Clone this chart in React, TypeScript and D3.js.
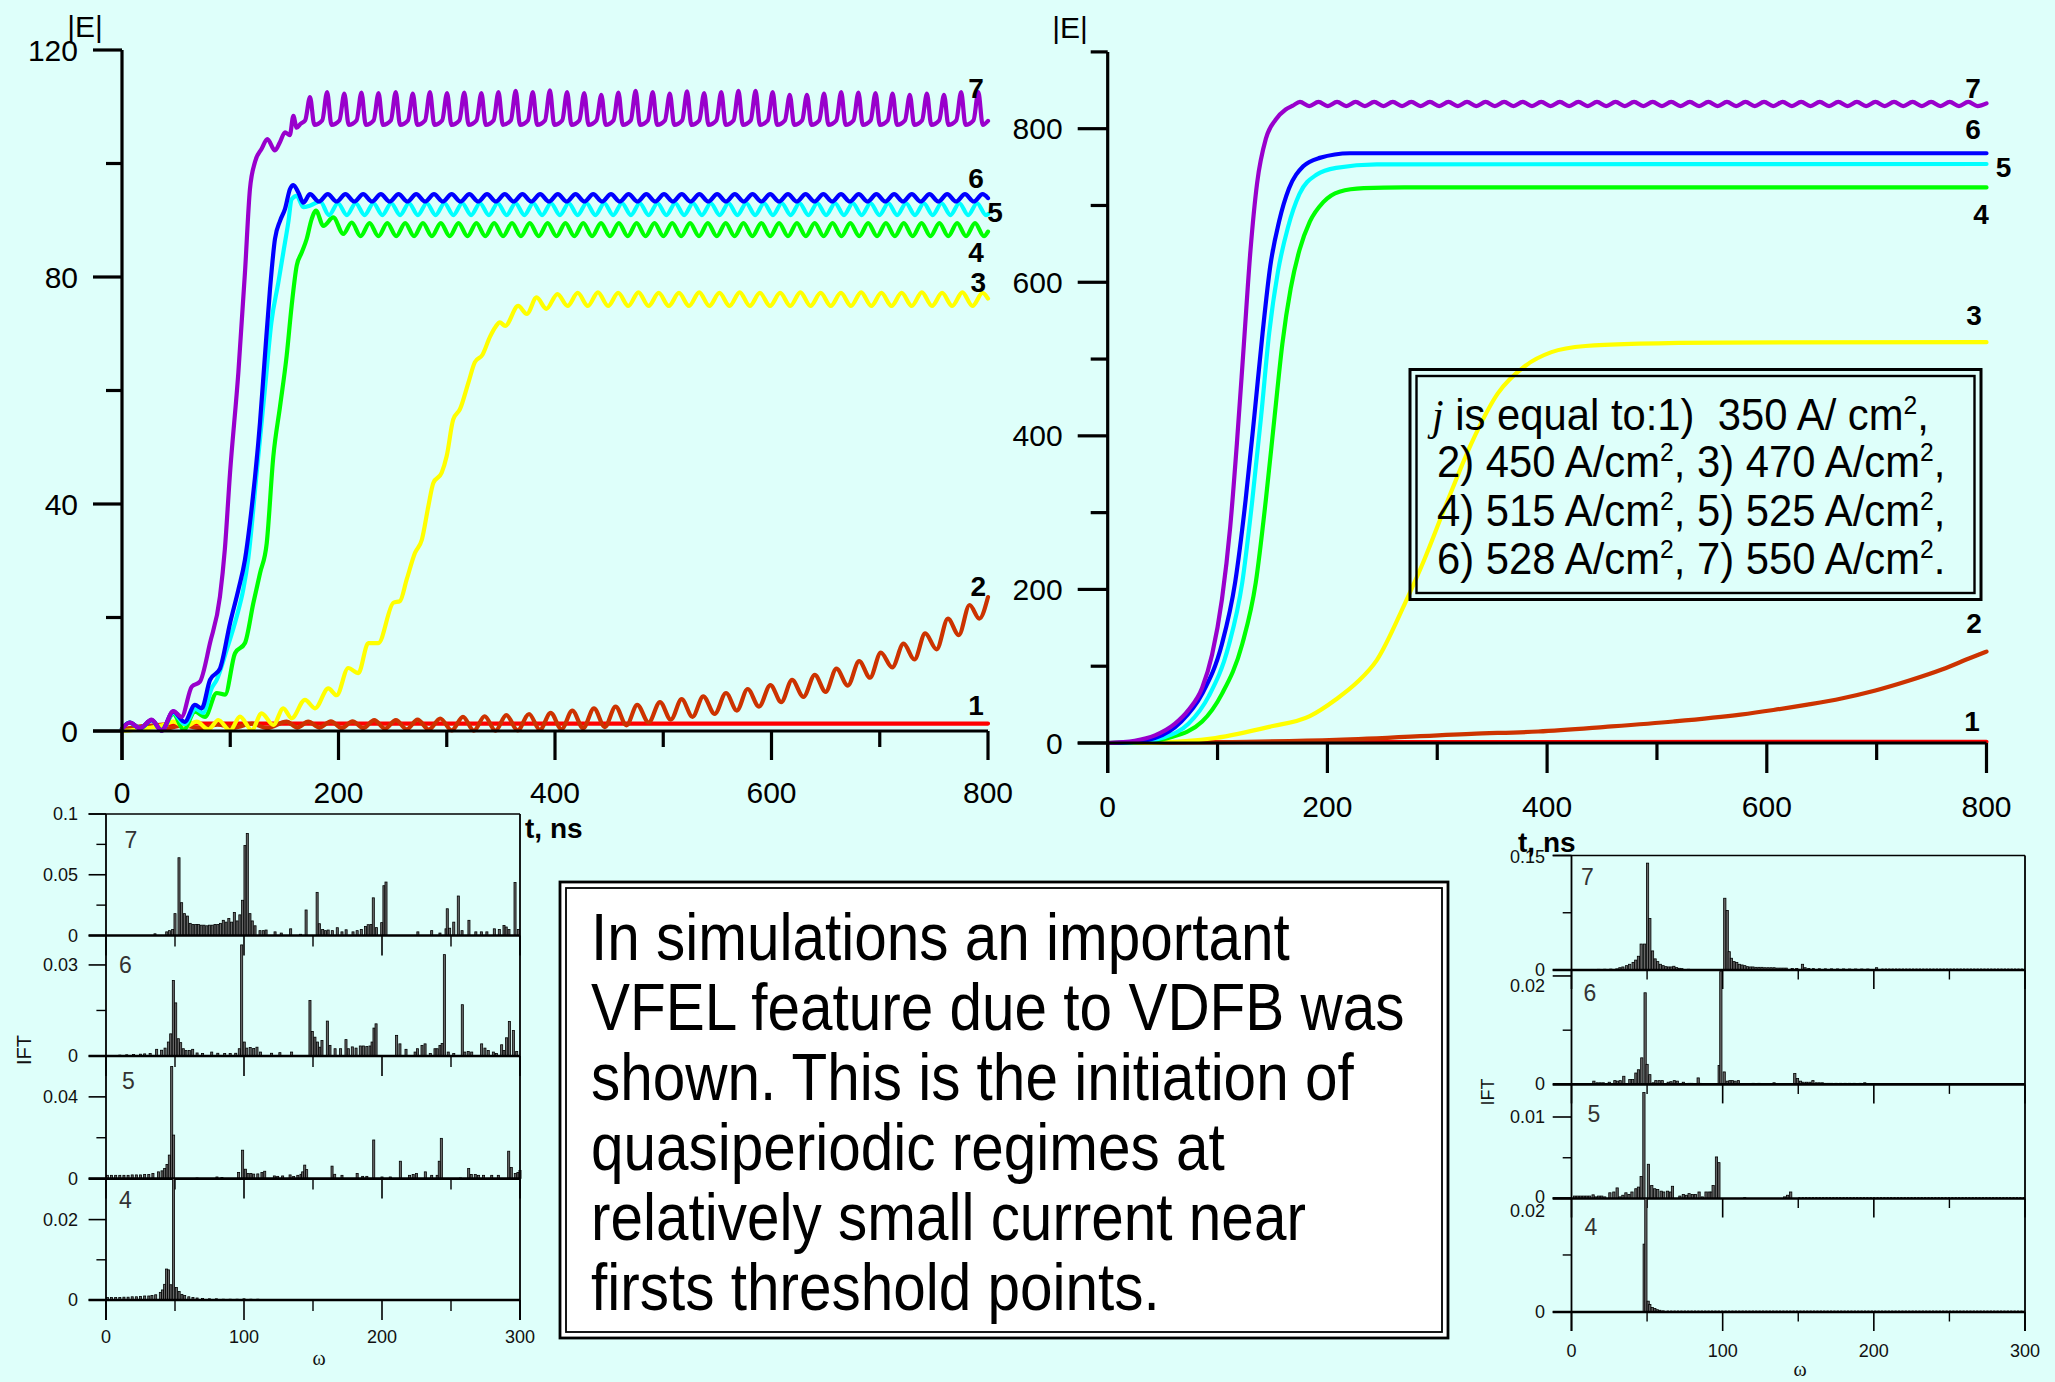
import React from 'react';
import * as d3 from 'd3';

type P = [number, number];
type Pk = [number, number, number];

const W = 2055;
const H = 1382;
const BG = '#DEFFFA';
const SANS = "'Liberation Sans', Arial, Helvetica, sans-serif";
const SERIF = "'Liberation Serif', 'Times New Roman', serif";

// ---------- tick values ----------
const T_MAJOR = [0, 200, 400, 600, 800];
const T_MINOR = [100, 300, 500, 700];
const EL_MAJOR = [0, 40, 80, 120];
const EL_MINOR = [20, 60, 100];
const ER_MAJOR = [0, 200, 400, 600, 800];
const ER_MINOR = [100, 300, 500, 700, 900];

const COLORS = ['#FF0000', '#CC3300', '#FFFF00', '#00FF00', '#00FFFF', '#0000FF', '#9900CC'];

// ---------- LEFT chart |E|(t) ----------
const L1: P[] = [[0, 0.2], [30, 1.0], [60, 1.3], [800, 1.3]];

const L2_HEAD: P[] = [[0, 0.2], [12, 0.7], [26, 0.9], [40, 0.4], [56, 1.0], [72, 0.5], [88, 1.1], [104, 0.6], [120, 1.3], [134, 0.5]];
const L2_PEAKS: Pk[] = [
  [152, 1.65, 0.6], [172, 1.65, 0.6], [193, 1.7, 0.5], [213, 1.7, 0.5], [233, 1.9, 0.4], [253, 1.9, 0.3],
  [273, 2.0, 0.25], [294, 2.2, 0.1], [315, 2.5, 0.05], [335, 2.6, 0.05], [355, 2.8, 0.1], [376, 3.0, 0.2],
  [396, 3.2, 0.3], [416, 3.6, 0.5], [436, 4.0, 0.7], [456, 4.3, 1.0], [476, 4.6, 1.5], [497, 5.1, 2.0],
  [517, 5.6, 2.5], [537, 6.1, 3.0], [558, 6.7, 3.6], [578, 7.4, 4.3], [599, 8.1, 5.1], [619, 9.0, 6.0],
  [640, 9.9, 6.9], [660, 11.0, 8.0], [681, 12.3, 9.4], [701, 13.8, 11.2], [722, 15.4, 12.6], [742, 17.2, 14.4],
  [763, 19.8, 16.9], [783, 22.2, 19.8],
];
const L2_TAIL: P[] = [[792, 19.8], [800, 23.6]];

const L3_HEAD: P[] = [
  [0, 0], [20, 0.4], [38, 1.06], [47.4, 1.65], [58.2, 0.76], [69, 1.65], [79.8, 0.29], [89, 1.94], [99.8, 0.06],
  [109, 2.53], [119.8, 0.18], [129, 3.1], [139.8, 1.06], [149, 4.0], [156.7, 2.24], [169, 5.5], [178.3, 4.0],
  [190.6, 7.5], [198.3, 6.3], [209, 11.1], [218.3, 10.2], [227.6, 15.5], [236.8, 15.5], [250.7, 22.6],
  [256.8, 22.9], [263, 26.7], [270.7, 31.4], [277, 33.7], [283, 39.6], [287.6, 43.7], [295.3, 45.5],
  [299.9, 48.4], [306, 54.9], [312.2, 56.7], [320, 61.4], [326, 65], [333, 66.3], [340, 69.5], [345, 71.2],
  [349, 72], [354, 71.4], [366, 74.9], [374, 73.5], [383, 76.4], [392, 74.4],
];
const L3_PEAKS: P[] = [
  [402.3, 77.0], [421.0, 77.2], [439.7, 77.3], [458.4, 77.2], [477.1, 77.3], [495.8, 77.2], [514.5, 77.2],
  [533.2, 77.3], [551.9, 77.2], [570.6, 77.3], [589.3, 77.2], [608.0, 77.2], [626.7, 77.3], [645.4, 77.2],
  [664.1, 77.2], [682.8, 77.3], [701.5, 77.2], [720.2, 77.2], [738.9, 77.3], [757.6, 77.2], [776.3, 77.3], [795.0, 77.2],
];
const L3_TROUGH = 74.9;
const L3_TAIL: P[] = [[800, 76.2]];

const L4_HEAD: P[] = [
  [0, 0.4], [7, 1.5], [16.6, 0.5], [27.4, 1.9], [36.6, 0.1], [47.4, 3.0], [57, 0.2], [67.4, 3.4], [76.7, 2.5],
  [87.5, 6.7], [95.2, 6.4], [104.4, 13.7], [113.6, 15.5], [121.3, 22.5], [127.5, 27.8], [133.7, 33.1],
  [139.8, 48.4], [146, 57.2], [152.1, 66.1], [156.7, 74.9], [161.4, 82], [166, 84.3], [170.6, 86.7],
  [175.2, 90.2], [179.2, 91.7], [186, 89], [195.2, 90.5], [204.4, 87.6],
];
const L4_PEAKS: P[] = [
  [212.2, 89.6], [228.7, 89.5], [245.1, 89.5], [261.6, 89.5], [278.0, 89.5], [294.5, 89.5], [310.9, 89.5],
  [327.4, 89.5], [343.8, 89.5], [360.3, 89.5], [376.7, 89.5], [393.2, 89.5], [409.6, 89.5], [426.1, 89.5],
  [442.5, 89.5], [459.0, 89.5], [475.4, 89.5], [491.9, 89.5], [508.3, 89.5], [524.8, 89.5], [541.2, 89.5],
  [557.7, 89.5], [574.1, 89.5], [590.6, 89.5], [607.0, 89.5], [623.5, 89.5], [639.9, 89.5], [656.4, 89.5],
  [672.8, 89.5], [689.3, 89.5], [705.7, 89.5], [722.2, 89.5], [738.6, 89.5], [755.1, 89.5], [771.5, 89.5], [788.0, 89.5],
];
const L4_TROUGH = 87.2;
const L4_TAIL: P[] = [[796.2, 87.2], [800, 88.0]];

const L5_HEAD: P[] = [
  [0, 0.4], [7, 1.5], [16.6, 0.5], [27.4, 1.9], [36.6, 0.1], [47.4, 3.2], [58, 1.2], [68, 3.9], [75, 3.2],
  [83, 7.6], [87.5, 9], [96.7, 14.3], [106, 20.2], [112, 24.9], [116.7, 30.5], [124.4, 45.5], [132, 60.2],
  [138, 72], [144.4, 79], [149, 84.3], [153.6, 89.6], [156.7, 93.7], [161.4, 94.3], [167.5, 92.3], [174, 92.6],
];
const L5_PEAKS: P[] = [
  [183.1, 93.3], [199.5, 93.0], [215.9, 93.0], [232.3, 93.0], [248.7, 93.0], [265.1, 93.0], [281.5, 93.0],
  [297.9, 93.0], [314.3, 93.0], [330.7, 93.0], [347.1, 93.0], [363.5, 93.0], [379.9, 93.0], [396.3, 93.0],
  [412.7, 93.0], [429.1, 93.0], [445.5, 93.0], [461.9, 93.0], [478.3, 93.0], [494.7, 93.0], [511.1, 93.0],
  [527.5, 93.0], [543.9, 93.0], [560.3, 93.0], [576.7, 93.0], [593.1, 93.0], [609.5, 93.0], [625.9, 93.0],
  [642.3, 93.0], [658.7, 93.0], [675.1, 93.0], [691.5, 93.0], [707.9, 93.0], [724.3, 93.0], [740.7, 93.0],
  [757.1, 93.0], [773.5, 93.0], [789.9, 93.0],
];
const L5_TROUGH = 90.9;
const L5_TAIL: P[] = [[798.1, 90.9], [800, 91.1]];

const L6_HEAD: P[] = [
  [0, 0.4], [7, 1.5], [16.6, 0.5], [27.4, 1.9], [36.6, 0.1], [47.4, 3.4], [57.9, 1.6], [67.4, 4.6], [73.6, 4.0],
  [81.3, 9], [90.5, 11], [99.8, 19], [107.5, 24.9], [113.6, 30.2], [118.2, 36.7], [127.5, 54.4], [132, 66],
  [136.7, 77.8], [141.3, 86.7], [146, 89.9], [150.6, 92], [155.2, 95.5], [158.3, 96.2], [162.9, 94.9], [167.5, 93.1],
];
const L6_PEAKS: P[] = [
  [173.7, 94.6], [190.1, 94.6], [206.4, 94.6], [222.8, 94.6], [239.1, 94.6], [255.5, 94.6], [271.8, 94.6],
  [288.2, 94.6], [304.5, 94.6], [320.9, 94.6], [337.2, 94.6], [353.6, 94.6], [369.9, 94.6], [386.3, 94.6],
  [402.6, 94.6], [419.0, 94.6], [435.3, 94.6], [451.7, 94.6], [468.0, 94.6], [484.4, 94.6], [500.7, 94.6],
  [517.1, 94.6], [533.4, 94.6], [549.8, 94.6], [566.1, 94.6], [582.5, 94.6], [598.8, 94.6], [615.2, 94.6],
  [631.5, 94.6], [647.9, 94.6], [664.2, 94.6], [680.6, 94.6], [696.9, 94.6], [713.3, 94.6], [729.6, 94.6],
  [746.0, 94.6], [762.3, 94.6], [778.7, 94.6], [795.0, 94.6],
];
const L6_TROUGH = 93.3;
const L6_TAIL: P[] = [[800, 93.9]];

const L7_HEAD: P[] = [
  [0, 0.4], [7.4, 1.5], [16.6, 0.5], [27.4, 2.0], [36.6, 0.05], [47.4, 3.5], [55, 2.5], [64.4, 7.8], [72, 8.7],
  [81.3, 15.5], [90.5, 23.7], [95, 32], [99.8, 45.5], [107.5, 63.2], [113.6, 80.8], [118.2, 95.5],
  [122.9, 100.3], [129, 102.6], [134.3, 104.3], [141.3, 102.3], [146, 103.8], [150.6, 105.5], [155, 105],
  [158.3, 108.4], [161.4, 106.3], [165, 107.0],
];
const L7_PEAKS: P[] = [
  [173.7, 111.7], [189.5, 112.6], [205.4, 112.3], [221.2, 112.5], [237.0, 112.4], [252.9, 112.6], [268.7, 112.3],
  [284.5, 112.6], [300.3, 112.4], [316.2, 112.5], [332.0, 112.4], [347.8, 112.6], [363.7, 112.8], [379.5, 112.6],
  [395.3, 112.9], [411.2, 112.6], [427.0, 112.4], [442.8, 112.1], [458.6, 112.5], [474.5, 112.8], [490.3, 112.6],
  [506.1, 112.3], [522.0, 112.7], [537.8, 112.4], [553.6, 112.6], [569.5, 112.8], [585.3, 112.8], [601.1, 112.6],
  [616.9, 112.1], [632.8, 112.1], [648.6, 112.3], [664.4, 112.6], [680.3, 112.5], [696.1, 112.4], [711.9, 112.3],
  [727.8, 112.1], [743.6, 112.3], [759.4, 112.1], [775.2, 112.6], [791.1, 112.6],
];
const L7_FLAT = 107.6;
const L7_DIP = 106.8;
const L7_TAIL: P[] = [[800, 107.5]];

// ---------- RIGHT chart |E|(t) ----------
const R1: P[] = [[0, 0], [30, 1], [800, 1.5]];
const R2: P[] = [[0, 0], [100, 1], [208, 4], [331, 12], [392, 15], [453, 21], [515, 28], [576, 37], [606, 43], [637, 50], [668, 58], [698, 68], [729, 81], [760, 96], [784, 110], [800, 119]];
const R3: P[] = [[0, 0], [40, 0.5], [98, 6.5], [147, 21], [184, 35], [208, 57], [227, 79], [245, 108], [270, 180], [288, 238], [306, 303], [331, 390], [355, 455], [380, 491], [404, 509], [435, 517], [484, 520], [560, 521.5], [800, 522]];
const R4: P[] = [[0, 0], [30, 1], [55, 6.5], [86, 28], [104, 64], [122.5, 129], [134.8, 209], [144, 317], [152, 426], [159, 520], [166.6, 592], [174.6, 642], [184, 679], [196, 704], [211, 718], [233, 722.5], [270, 723.5], [800, 723.5]];
const R5: P[] = [[0, 0], [25, 1], [49, 6.5], [73.5, 25], [92, 61], [110, 126], [122.5, 209], [131.7, 317], [139.7, 426], [147, 534], [155, 614], [164, 671], [174.6, 715], [190, 740], [208, 749], [245, 753.5], [800, 754]];
const R6: P[] = [[0, 0], [20, 1], [43, 6.5], [67, 28], [86, 64], [104, 129], [116, 209], [125.6, 317], [133.5, 426], [141, 534], [148, 621], [156, 679], [165, 722], [178, 751], [193, 762], [220.5, 768], [800, 768]];
const R7_HEAD: P[] = [[0, 0], [24.5, 3], [43, 10], [61, 25], [73.5, 43], [86, 72], [95, 115], [104, 187], [111.5, 281], [117.6, 390], [124, 520], [130, 642], [136, 729], [144, 787], [153, 812], [162, 825], [168.5, 830]];
const R7_PEAKS: P[] = [
  [175.0, 835], [191.9, 835], [208.8, 835], [225.7, 835], [242.6, 835], [259.5, 835], [276.4, 835], [293.3, 835],
  [310.2, 835], [327.1, 835], [344.0, 835], [360.9, 835], [377.8, 835], [394.7, 835], [411.6, 835], [428.5, 835],
  [445.4, 835], [462.3, 835], [479.2, 835], [496.1, 835], [513.0, 835], [529.9, 835], [546.8, 835], [563.7, 835],
  [580.6, 835], [597.5, 835], [614.4, 835], [631.3, 835], [648.2, 835], [665.1, 835], [682.0, 835], [698.9, 835],
  [715.8, 835], [732.7, 835], [749.6, 835], [766.5, 835], [783.4, 835],
];
const R7_TROUGH = 829.5;
const R7_TAIL: P[] = [[791.9, 829.5], [800, 833]];

// label anchors (data coords: t, |E|)
const L_LABELS: [string, number, number][] = [['7', 789, 113.3], ['6', 789, 97.4], ['5', 806.5, 91.3], ['4', 789, 84.4], ['3', 791, 79.1], ['2', 791, 25.5], ['1', 789, 4.5]];
const R_LABELS: [string, number, number][] = [['7', 787.7, 851.7], ['6', 787.7, 798.4], ['5', 815.5, 750.1], ['4', 795, 688.9], ['3', 788.6, 557.3], ['2', 788.6, 155.9], ['1', 786.8, 28.6]];

// ---------- spectra (omega, IFT) ----------
const SX_MAJOR = [0, 100, 200, 300];
const SX_MINOR = [50, 150, 250];

const SL7: P[] = [
  [35.5, 0.0014], [44, 0.003], [46, 0.004], [48.3, 0.005], [50, 0.018], [52.9, 0.064], [54.8, 0.027], [56.8, 0.018],
  [59, 0.016], [61, 0.01], [63, 0.009], [65, 0.009], [67, 0.009], [69, 0.0085], [71, 0.0085], [73, 0.008], [75, 0.0085],
  [77, 0.0085], [79, 0.009], [81, 0.009], [83, 0.01], [85, 0.0125], [87, 0.011], [89, 0.014], [91, 0.011], [93, 0.019],
  [95, 0.012], [97, 0.017], [99, 0.029], [100.7, 0.074], [102.4, 0.084], [104.3, 0.018], [106, 0.012], [108, 0.008],
  [111.6, 0.004], [114, 0.004], [116, 0.0045], [122.5, 0.003], [127, 0.002], [133.8, 0.0055], [141, 0.001], [145, 0.021],
  [153, 0.0355], [154.6, 0.0097], [157, 0.005], [159, 0.004], [161, 0.0045], [164, 0.004], [167.6, 0.0064], [171, 0.003],
  [174, 0.0047], [179, 0.003], [182, 0.004], [185, 0.005], [188, 0.0075], [190, 0.0089], [192, 0.009], [193.7, 0.031],
  [196, 0.0065], [199.8, 0.0106], [201.4, 0.041], [202.9, 0.044], [226, 0.003], [236, 0.004], [242, 0.002],
  [246.4, 0.0055], [247.3, 0.022], [249, 0.006], [252, 0.011], [255.3, 0.0325], [258, 0.004], [263, 0.0125],
  [268, 0.003], [272, 0.003], [276, 0.003], [281.4, 0.0055], [285, 0.005], [288.4, 0.0083], [290, 0.007], [292, 0.005],
  [296.4, 0.0436], [298.8, 0.005],
];
const SL6: P[] = [
  [10, 0.0003], [15, 0.0004], [20, 0.0005], [25, 0.0006], [28, 0.0007], [32, 0.0008], [36.7, 0.0022], [40.3, 0.0019],
  [42.8, 0.0026], [45.2, 0.0046], [46.9, 0.0073], [48.8, 0.0249], [50.5, 0.0175], [52.4, 0.0057], [54.1, 0.0044],
  [56, 0.0024], [58, 0.0018], [60.4, 0.0018], [62.8, 0.0022], [66, 0.001], [70, 0.0008], [76.6, 0.0013], [81, 0.0009],
  [86, 0.0008], [90, 0.0008], [94, 0.0009], [96.6, 0.0024], [98.3, 0.0366], [100.2, 0.0046], [102, 0.0026],
  [104.5, 0.0028], [107, 0.0025], [109.4, 0.0029], [112, 0.0013], [120, 0.0009], [126, 0.0011], [134.5, 0.0013],
  [147.8, 0.0183], [149.5, 0.0081], [151.4, 0.0062], [153.3, 0.0046], [155, 0.0029], [156.5, 0.0051], [160.4, 0.0115],
  [162.3, 0.0035], [166, 0.0024], [170, 0.0024], [173.9, 0.0054], [175.6, 0.0024], [178.5, 0.003], [181.2, 0.0026],
  [184.3, 0.0033], [186.5, 0.0033], [189, 0.0031], [191.3, 0.0033], [192.8, 0.0046], [194.2, 0.0092], [195.7, 0.0106],
  [210.6, 0.0068], [213, 0.004], [217.4, 0.0022], [224, 0.0013], [225.7, 0.0024], [229, 0.0035], [231.2, 0.004],
  [235, 0.0008], [238.4, 0.0024], [240, 0.0024], [242, 0.0035], [243.6, 0.0041], [245.2, 0.0334], [248, 0.0013],
  [252, 0.0008], [258.2, 0.0169], [260, 0.0013], [262.5, 0.0015], [265, 0.0013], [272.2, 0.004], [274.6, 0.0026],
  [277, 0.0018], [280.7, 0.0013], [283, 0.0008], [286.7, 0.0037], [288.4, 0.0018], [290.3, 0.006], [292.3, 0.0114],
  [295.2, 0.0084], [297.6, 0.0015],
];
const SL5: P[] = [
  [1, 0.0016], [4, 0.0016], [7, 0.0016], [10, 0.0016], [13, 0.0016], [16, 0.0016], [19, 0.0018], [22, 0.0018],
  [25, 0.0018], [28, 0.002], [31, 0.002], [34, 0.0025], [38, 0.0033], [40.6, 0.0038], [42.5, 0.0049], [44.2, 0.0069],
  [45.9, 0.0115], [47.6, 0.0549], [49, 0.0213], [66, 0.0003], [80.4, 0.0008], [84, 0.0005], [96.1, 0.003], [99, 0.0139],
  [101, 0.0046], [103, 0.0025], [105, 0.0025], [107, 0.0022], [110, 0.0023], [113, 0.003], [115, 0.0036], [122, 0.0013],
  [124.4, 0.0011], [128, 0.0013], [133.4, 0.0018], [136, 0.001], [139, 0.0016], [141.3, 0.0021], [142.5, 0.0033],
  [144, 0.0066], [145.4, 0.0044], [163.8, 0.0061], [165.7, 0.0021], [171, 0.0016], [182, 0.0025], [186, 0.0011],
  [189, 0.0011], [194, 0.0189], [200, 0.0008], [206, 0.0008], [213.3, 0.0085], [220, 0.0016], [222.6, 0.002],
  [225, 0.0025], [231.4, 0.0033], [236, 0.0016], [240, 0.0016], [241.5, 0.0085], [243, 0.0197], [256.8, 0.0003],
  [262.8, 0.0049], [264.7, 0.002], [267.6, 0.002], [270, 0.0016], [273.6, 0.0016], [279.5, 0.0016], [284.3, 0.0016],
  [291.8, 0.0134], [293.7, 0.0054], [296.6, 0.0025], [298.5, 0.003], [300, 0.004],
];
const SL4: P[] = [
  [1, 0.0006], [4, 0.0006], [7, 0.0006], [10, 0.0006], [13, 0.0007], [16, 0.0007], [19, 0.0008], [22, 0.0008],
  [25, 0.0009], [28, 0.001], [31, 0.001], [33.3, 0.0011], [36, 0.0013], [39.4, 0.0019], [41, 0.0025], [42.5, 0.0039],
  [43.9, 0.0077], [45.3, 0.0075], [47, 0.0038], [48.9, 0.031], [51, 0.0031], [53, 0.0021], [55, 0.0014], [57, 0.0011],
  [60, 0.0008], [63, 0.0006], [66, 0.0005], [70, 0.0004], [75, 0.0003], [80, 0.0003], [85, 0.0002], [90, 0.0002],
  [95, 0.0002], [100, 0.0003], [105, 0.0002], [110, 0.0002],
];

const SR7: P[] = [
  [2, 0.0005], [6, 0.0006], [10, 0.0007], [14, 0.0008], [18, 0.0009], [22, 0.001], [26, 0.0012], [30, 0.0015],
  [32, 0.003], [34, 0.004], [36.4, 0.0057], [38.5, 0.0075], [40.8, 0.01], [42.5, 0.013], [44.3, 0.018], [46.1, 0.034],
  [48.3, 0.034], [50.3, 0.14], [51.8, 0.0675], [53.6, 0.025], [55.3, 0.0146], [57, 0.011], [58.8, 0.0075],
  [60.6, 0.0057], [62.4, 0.0044], [64.2, 0.004], [66, 0.004], [67.7, 0.0049], [69.5, 0.0031], [71.3, 0.0022],
  [73, 0.0018], [77.4, 0.001], [101.4, 0.094], [103, 0.078], [104.3, 0.024], [105.8, 0.0154], [107.5, 0.011],
  [109.3, 0.01], [111, 0.0075], [112.8, 0.0066], [114.6, 0.0057], [116.4, 0.0044], [118.2, 0.004], [120, 0.004],
  [122, 0.0035], [124, 0.0035], [126, 0.0035], [128, 0.003], [130, 0.003], [132, 0.003], [134, 0.003], [136, 0.0025],
  [138, 0.0025], [140, 0.0025], [142, 0.0025], [146, 0.002], [149, 0.002], [152.8, 0.0075], [154.5, 0.003],
  [157, 0.002], [160, 0.0018], [164, 0.0016], [168, 0.0015], [172, 0.0015], [176, 0.0014], [180, 0.0014],
  [184, 0.0013], [188, 0.0013], [192, 0.0013], [196, 0.0013], [201.8, 0.003],
];
const SR6: P[] = [
  [14.8, 0.0006], [17, 0.0003], [19, 0.0003], [21, 0.0003], [25, 0.0004], [28.7, 0.0007], [30.4, 0.0006],
  [32.2, 0.0007], [34.6, 0.0015], [38.6, 0.0009], [40.4, 0.0009], [42.6, 0.0021], [44.3, 0.0027], [46.5, 0.0049],
  [48.7, 0.0169], [50, 0.0037], [51.8, 0.0018], [54, 0.0003], [55.8, 0.0007], [58, 0.0007], [60, 0.0007], [64, 0.0004],
  [65.8, 0.0005], [68, 0.0007], [70, 0.0006], [74, 0.0004], [77.8, 0.0002], [79.6, 0.0002], [83.8, 0.0012],
  [85, 0.0002], [97.7, 0.0035], [98.8, 0.0208], [101, 0.0023], [103, 0.0006], [104.8, 0.0007], [106.4, 0.0007],
  [108.2, 0.0006], [110.4, 0.0007], [120.2, 0.0002], [124, 0.0002], [134, 0.0003], [147.7, 0.002], [149.5, 0.0011],
  [151.5, 0.0006], [153.2, 0.0004], [155.5, 0.0004], [157.7, 0.0004], [159.7, 0.0007], [162, 0.0003], [164, 0.0003],
  [166, 0.0003], [168, 0.0002], [170, 0.0002], [172, 0.0002], [175, 0.0002], [178, 0.0002], [181, 0.0002],
  [184, 0.0002], [187, 0.0002], [191, 0.0002], [194, 0.0003],
];
const SR5: P[] = [
  [2, 0.0003], [4, 0.0003], [6, 0.0003], [8, 0.0003], [10, 0.0003], [12, 0.0003], [14.3, 0.00045], [16, 0.0002],
  [18, 0.0003], [20, 0.0003], [22, 0.0002], [25.4, 0.0007], [28, 0.0008], [30.2, 0.0013], [32, 0.0002], [34, 0.0004],
  [36, 0.0007], [38, 0.0005], [40, 0.0008], [42.6, 0.0012], [44.3, 0.0014], [46.1, 0.0027], [47.9, 0.013],
  [50.9, 0.0042], [53.1, 0.0016], [55, 0.0012], [57, 0.0011], [59.3, 0.0009], [61, 0.0008], [63.5, 0.0009],
  [65.5, 0.0008], [66.8, 0.0015], [71.7, 0.0003], [74, 0.0005], [76, 0.0004], [77.8, 0.0006], [80, 0.0005],
  [82, 0.0005], [84.4, 0.0008], [86.6, 0.0002], [89, 0.0008], [91, 0.0008], [92.5, 0.0008], [93.7, 0.0016],
  [95.9, 0.0051], [97.5, 0.0044], [114.6, 0.0001], [141, 0.0002], [143, 0.0004], [145, 0.0008],
];
const SR4: P[] = [
  [48.1, 0.0119], [49.2, 0.0203], [50.7, 0.0019], [51.8, 0.0013], [53.4, 0.0008], [55.1, 0.0006], [56.7, 0.0004],
  [58.4, 0.0003], [60.6, 0.0002], [62.8, 0.0001],
];

// ---------- text ----------
const NOTE_LINES = [
  'In simulations an important',
  'VFEL feature due to VDFB was',
  'shown. This is the initiation of',
  'quasiperiodic regimes at',
  'relatively small current near',
  'firsts threshold points.',
];
type Seg = [string, 'n' | 'sup' | 'it'];
const LEGEND_LINES: Seg[][] = [
  [['j', 'it'], [' is equal to:1)  350 A/ cm', 'n'], ['2', 'sup'], [',', 'n']],
  [['2) 450 A/cm', 'n'], ['2', 'sup'], [', 3) 470 A/cm', 'n'], ['2', 'sup'], [',', 'n']],
  [['4) 515 A/cm', 'n'], ['2', 'sup'], [', 5) 525 A/cm', 'n'], ['2', 'sup'], [',', 'n']],
  [['6) 528 A/cm', 'n'], ['2', 'sup'], [', 7) 550 A/cm', 'n'], ['2', 'sup'], ['.', 'n']],
];

// ---------- helpers ----------
function withTroughs(head: P[], peaks: P[], trough: number, tail: P[]): P[] {
  const pts: P[] = [...head];
  peaks.forEach((p, i) => {
    pts.push(p);
    if (i + 1 < peaks.length) pts.push([(p[0] + peaks[i + 1][0]) / 2, trough]);
  });
  return pts.concat(tail);
}
function withTroughsK(head: P[], peaks: Pk[], tail: P[]): P[] {
  const pts: P[] = [...head];
  peaks.forEach((p, i) => {
    pts.push([p[0], p[1]]);
    if (i + 1 < peaks.length) pts.push([(p[0] + peaks[i + 1][0]) / 2, p[2]]);
  });
  return pts.concat(tail);
}
function spikes(head: P[], peaks: P[], flat: number, dip: number, tail: P[]): P[] {
  const pts: P[] = [...head];
  peaks.forEach(([t, v]) => {
    pts.push([t - 4.5, flat], [t, v], [t + 4, dip]);
  });
  return pts.concat(tail);
}

const LEFT_SERIES: P[][] = [
  L1,
  withTroughsK(L2_HEAD, L2_PEAKS, L2_TAIL),
  withTroughs(L3_HEAD, L3_PEAKS, L3_TROUGH, L3_TAIL),
  withTroughs(L4_HEAD, L4_PEAKS, L4_TROUGH, L4_TAIL),
  withTroughs(L5_HEAD, L5_PEAKS, L5_TROUGH, L5_TAIL),
  withTroughs(L6_HEAD, L6_PEAKS, L6_TROUGH, L6_TAIL),
  spikes(L7_HEAD, L7_PEAKS, L7_FLAT, L7_DIP, L7_TAIL),
];
const RIGHT_SERIES: P[][] = [R1, R2, R3, R4, R5, R6, withTroughs(R7_HEAD, R7_PEAKS, R7_TROUGH, R7_TAIL)];

type Lin = d3.ScaleLinear<number, number>;

function TimeChart(props: {
  x: Lin; y: Lin; yMajor: number[]; yMinor: number[]; series: P[][]; labels: [string, number, number][];
  majLen: number; minLen: number; yLabelRight: number; xLabelY: number; yTop: number;
}) {
  const { x, y, yMajor, yMinor, series, labels, majLen, minLen, yLabelRight, xLabelY, yTop } = props;
  const x0 = x(0);
  const y0 = y(0);
  const line = d3.line<P>().x((d) => x(d[0])).y((d) => y(d[1])).curve(d3.curveMonotoneX);
  return (
    <g>
      {series.map((s, i) => (
        <path key={'s' + i} d={line(s) || ''} fill="none" stroke={COLORS[i]} strokeWidth={4.2} strokeLinejoin="round" strokeLinecap="round" />
      ))}
      <g stroke="#000" strokeWidth={3.2}>
        <line x1={x0 - majLen} x2={x(800)} y1={y0} y2={y0} />
        <line x1={x0} x2={x0} y1={yTop} y2={y0 + majLen} />
        {yMajor.map((v) => <line key={'ym' + v} x1={x0 - majLen} x2={x0} y1={y(v)} y2={y(v)} />)}
        {yMinor.map((v) => <line key={'yn' + v} x1={x0 - minLen} x2={x0} y1={y(v)} y2={y(v)} />)}
        {T_MAJOR.map((v) => <line key={'xm' + v} x1={x(v)} x2={x(v)} y1={y0} y2={y0 + majLen} />)}
        {T_MINOR.map((v) => <line key={'xn' + v} x1={x(v)} x2={x(v)} y1={y0} y2={y0 + minLen} />)}
      </g>
      <g fontSize={30} fill="#000">
        {yMajor.map((v) => (
          <text key={'yl' + v} x={yLabelRight} y={y(v)} textAnchor="end" dominantBaseline="central">{v}</text>
        ))}
        {T_MAJOR.map((v) => (
          <text key={'xl' + v} x={x(v)} y={xLabelY} textAnchor="middle" dominantBaseline="central">{v}</text>
        ))}
      </g>
      <g fontSize={28} fontWeight="bold" fill="#000">
        {labels.map(([n, t, v]) => (
          <text key={'lab' + n} x={x(t)} y={y(v)} textAnchor="middle" dominantBaseline="central">{n}</text>
        ))}
      </g>
    </g>
  );
}

interface Panel {
  num: string; top: number; zero: number; max: number; major: number[]; minor: number[];
  labels: [number, string, number][]; bars: P[]; numPos: [number, number]; floor?: [number, number, number];
}

function Spectrum(props: {
  xs: Lin; panels: Panel[]; tickX0: number; minX0: number; labelRight: number; majDown: number; minDown: number;
  xLabelY: number; iftPos: [number, number]; iftSize: number; omegaPos: [number, number];
}) {
  const { xs, panels, tickX0, minX0, labelRight, majDown, minDown, xLabelY, iftPos, iftSize, omegaPos } = props;
  const left = xs(0);
  const right = xs(300);
  const top = panels[0].top;
  const bottom = panels[panels.length - 1].zero;
  const bw = 1.5;
  return (
    <g>
      {panels.map((p) => {
        const ys = d3.scaleLinear().domain([0, p.max]).range([p.zero, p.top]);
        return (
          <g key={'p' + p.num}>
            {p.floor && (
              <line x1={xs(p.floor[0])} x2={xs(p.floor[1])} y1={ys(p.floor[2])} y2={ys(p.floor[2])} stroke="#333" strokeWidth={1.4} strokeDasharray="2.2 1.2" />
            )}
            {p.bars.map(([w, v], i) => {
              const yv = ys(Math.min(v, p.max));
              return (
                <rect key={'b' + i} x={xs(w - bw / 2)} width={xs(bw) - xs(0)} y={yv} height={Math.max(0.6, p.zero - yv)}
                  fill="#666" stroke="#000" strokeWidth={0.8} />
              );
            })}
            <line x1={tickX0} x2={right} y1={p.zero} y2={p.zero} stroke="#000" strokeWidth={2.6} />
            {p.major.map((v) => <line key={'mj' + v} x1={tickX0} x2={left} y1={ys(v)} y2={ys(v)} stroke="#000" strokeWidth={1.6} />)}
            {p.minor.map((v) => <line key={'mn' + v} x1={minX0} x2={left} y1={ys(v)} y2={ys(v)} stroke="#000" strokeWidth={1.4} />)}
            {SX_MAJOR.map((v) => <line key={'xm' + v} x1={xs(v)} x2={xs(v)} y1={p.zero} y2={p.zero + majDown} stroke="#000" strokeWidth={1.6} />)}
            {SX_MINOR.map((v) => <line key={'xn' + v} x1={xs(v)} x2={xs(v)} y1={p.zero} y2={p.zero + minDown} stroke="#000" strokeWidth={1.4} />)}
            {p.labels.map(([v, s, dy]) => (
              <text key={'lb' + s + v} x={labelRight} y={ys(v) + dy} fontSize={18} textAnchor="end" dominantBaseline="central" fill="#111">{s}</text>
            ))}
            <text x={p.numPos[0]} y={p.numPos[1]} fontSize={23} textAnchor="middle" dominantBaseline="central" fill="#333">{p.num}</text>
          </g>
        );
      })}
      <line x1={tickX0} x2={right} y1={top} y2={top} stroke="#000" strokeWidth={1.6} />
      <line x1={left} x2={left} y1={top} y2={bottom + majDown} stroke="#000" strokeWidth={1.8} />
      <line x1={right} x2={right} y1={top} y2={bottom + majDown} stroke="#000" strokeWidth={1.8} />
      {SX_MAJOR.map((v) => (
        <text key={'xl' + v} x={xs(v)} y={xLabelY} fontSize={18} textAnchor="middle" dominantBaseline="central" fill="#111">{v}</text>
      ))}
      <text x={iftPos[0]} y={iftPos[1]} fontSize={iftSize} textAnchor="middle" dominantBaseline="central" transform={`rotate(-90 ${iftPos[0]} ${iftPos[1]})`} fill="#111">IFT</text>
      <text x={omegaPos[0]} y={omegaPos[1]} fontSize={20} fontFamily={SERIF} textAnchor="middle" dominantBaseline="central" fill="#111">ω</text>
    </g>
  );
}

function Legend() {
  const baselines = [430, 477, 526, 574];
  const starts = [1432, 1437, 1437, 1437];
  return (
    <g>
      <rect x={1410} y={369.5} width={571} height={230} fill="none" stroke="#000" strokeWidth={3} />
      <rect x={1416.5} y={376} width={558} height={217} fill="none" stroke="#000" strokeWidth={2.4} />
      {LEGEND_LINES.map((segs, li) => {
        let raised = false;
        return (
          <g key={'lg' + li} transform={`translate(${starts[li]} ${baselines[li]}) scale(0.95 1)`}>
            <text x={0} y={0} fontSize={44} fill="#000" style={{ whiteSpace: 'pre' }}>
              {segs.map(([s, k], si) => {
                let dy = 0;
                if (k === 'sup' && !raised) { dy = -16; raised = true; }
                else if (k !== 'sup' && raised) { dy = 16; raised = false; }
                if (k === 'it') return <tspan key={si} fontFamily={SERIF} fontStyle="italic">{s}</tspan>;
                if (k === 'sup') return <tspan key={si} dy={dy} fontSize={26}>{s}</tspan>;
                return <tspan key={si} dy={dy}>{s}</tspan>;
              })}
            </text>
          </g>
        );
      })}
    </g>
  );
}

function NoteBox() {
  const baselines = [960, 1030, 1100, 1170, 1240, 1310];
  return (
    <g>
      <rect x={560} y={882} width={888} height={456} fill="#fff" stroke="#000" strokeWidth={2.8} />
      <rect x={566} y={888} width={876} height={444} fill="#fff" stroke="#000" strokeWidth={1.8} />
      {NOTE_LINES.map((s, i) => (
        <g key={'nl' + i} transform={`translate(591 ${baselines[i]}) scale(0.886 1)`}>
          <text x={0} y={0} fontSize={66} fill="#000">{s}</text>
        </g>
      ))}
    </g>
  );
}

export default function App() {
  const lx = d3.scaleLinear().domain([0, 800]).range([122, 988]);
  const ly = d3.scaleLinear().domain([0, 120]).range([731, 50]);
  const rx = d3.scaleLinear().domain([0, 800]).range([1107.7, 1986.5]);
  const ry = d3.scaleLinear().domain([0, 900]).range([743, 51.9]);

  const sxl = d3.scaleLinear().domain([0, 300]).range([106, 520]);
  const sxr = d3.scaleLinear().domain([0, 300]).range([1571.5, 2025]);

  const leftPanels: Panel[] = [
    { num: '7', top: 814, zero: 935.5, max: 0.1, major: [0, 0.05, 0.1], minor: [0.025, 0.075], labels: [[0.1, '0.1', 0], [0.05, '0.05', 0], [0, '0', 0]], bars: SL7, numPos: [131, 840] },
    { num: '6', top: 935.5, zero: 1056, max: 0.0397, major: [0, 0.03], minor: [0.015], labels: [[0.03, '0.03', 0], [0, '0', 0]], bars: SL6, numPos: [125.5, 965] },
    { num: '5', top: 1056, zero: 1178.6, max: 0.06, major: [0, 0.04], minor: [0.02], labels: [[0.04, '0.04', 0], [0, '0', 0]], bars: SL5, numPos: [128.3, 1081] },
    { num: '4', top: 1178.6, zero: 1300, max: 0.0302, major: [0, 0.02], minor: [0.01], labels: [[0.02, '0.02', 0], [0, '0', 0]], bars: SL4, numPos: [125.5, 1200] },
  ];
  const rightPanels: Panel[] = [
    { num: '7', top: 855.5, zero: 970, max: 0.15, major: [0, 0.15], minor: [0.075], labels: [[0.15, '0.15', 1], [0, '0', 0]], bars: SR7, numPos: [1587.5, 876.5], floor: [205, 300, 0.0009] },
    { num: '6', top: 970, zero: 1084.4, max: 0.0211, major: [0, 0.02], minor: [0.01], labels: [[0.02, '0.02', 10], [0, '0', 0]], bars: SR6, numPos: [1590, 993], floor: [196, 300, 0.00012] },
    { num: '5', top: 1084.4, zero: 1198.5, max: 0.014, major: [0, 0.01], minor: [0.005], labels: [[0.01, '0.01', 0], [0, '0', -2]], bars: SR5, numPos: [1594, 1113.7], floor: [150, 300, 0.0001] },
    { num: '4', top: 1198.5, zero: 1312, max: 0.0199, major: [0, 0.02], minor: [0.01], labels: [[0.02, '0.02', 13], [0, '0', 0]], bars: SR4, numPos: [1591, 1227], floor: [63, 300, 0.00012] },
  ];

  return (
    <svg width={W} height={H} viewBox={`0 0 ${W} ${H}`} style={{ position: 'absolute', left: 0, top: 0, display: 'block' }} fontFamily={SANS}>
      <rect x={0} y={0} width={W} height={H} fill={BG} />

      <TimeChart x={lx} y={ly} yMajor={EL_MAJOR} yMinor={EL_MINOR} series={LEFT_SERIES} labels={L_LABELS}
        majLen={29} minLen={16} yLabelRight={78} xLabelY={792} yTop={ly(120)} />
      <text x={85} y={26} fontSize={30} textAnchor="middle" dominantBaseline="central">|E|</text>
      <text x={525} y={828} fontSize={28} fontWeight="bold" dominantBaseline="central">t, ns</text>

      <TimeChart x={rx} y={ry} yMajor={ER_MAJOR} yMinor={ER_MINOR} series={RIGHT_SERIES} labels={R_LABELS}
        majLen={30} minLen={17} yLabelRight={1062.6} xLabelY={806} yTop={ry(900)} />
      <text x={1070} y={27} fontSize={30} textAnchor="middle" dominantBaseline="central">|E|</text>

      <Legend />

      <Spectrum xs={sxl} panels={leftPanels} tickX0={88.6} minX0={96.4} labelRight={78} majDown={20} minDown={11}
        xLabelY={1337} iftPos={[24, 1050]} iftSize={20} omegaPos={[319, 1358]} />
      <Spectrum xs={sxr} panels={rightPanels} tickX0={1552.7} minX0={1562.7} labelRight={1545} majDown={19} minDown={9.5}
        xLabelY={1351} iftPos={[1488, 1092]} iftSize={18} omegaPos={[1800, 1369]} />

      <text x={1518} y={842} fontSize={28} fontWeight="bold" dominantBaseline="central">t, ns</text>

      <NoteBox />
    </svg>
  );
}
